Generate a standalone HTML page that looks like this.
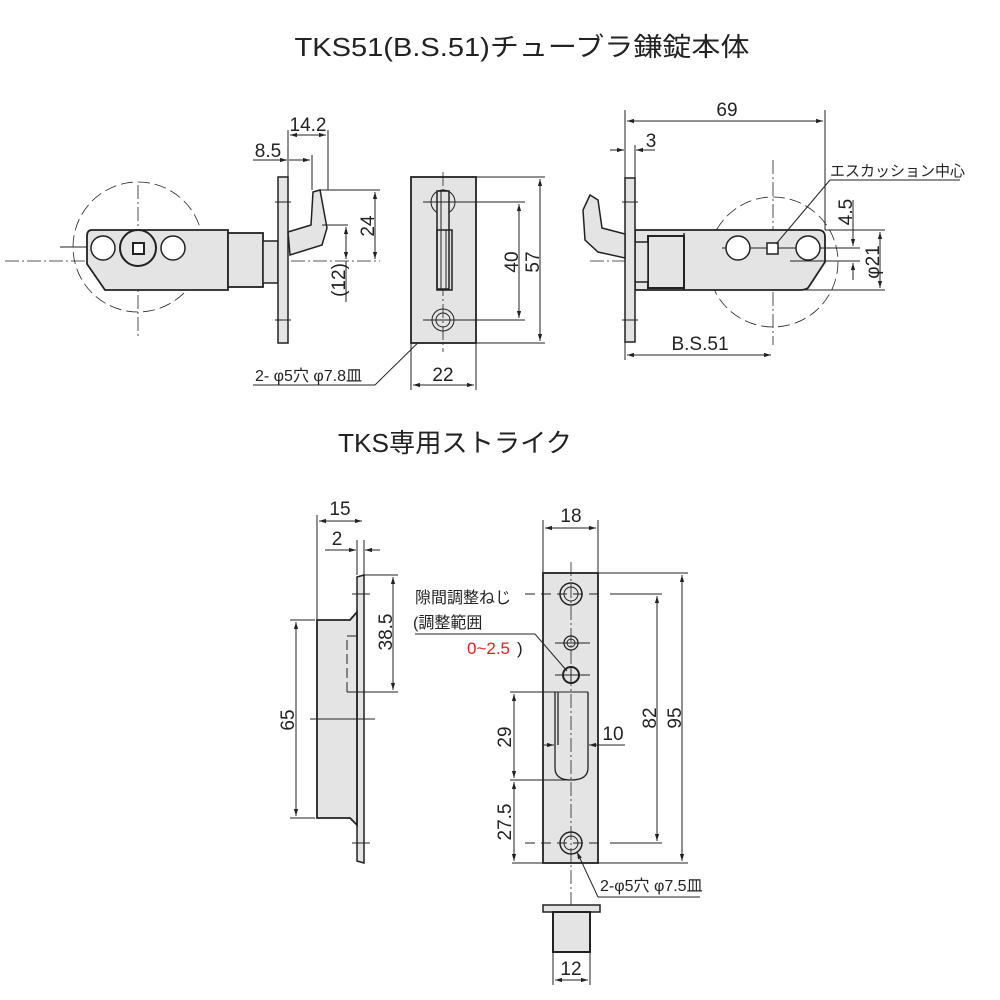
<!DOCTYPE html>
<html><head><meta charset="utf-8"><style>
html,body{margin:0;padding:0;background:#fff}
svg{display:block}
text{font-family:"Liberation Sans","Noto Sans CJK JP",sans-serif;fill:#222}
</style></head><body>
<svg width="1000" height="1000" viewBox="0 0 1000 1000" xmlns="http://www.w3.org/2000/svg">
<defs>
<marker id="a" viewBox="0 0 10 10" refX="10" refY="5" markerWidth="9" markerHeight="7" orient="auto-start-reverse"><path d="M0,2 L10,5 L0,8 z" fill="#222"/></marker>
</defs>
<text x="522" y="56" font-size="26" text-anchor="middle" textLength="455" lengthAdjust="spacingAndGlyphs">TKS51(B.S.51)チューブラ鎌錠本体</text>
<text x="455" y="452" font-size="26" text-anchor="middle" textLength="234" lengthAdjust="spacingAndGlyphs">TKS専用ストライク</text>

<g stroke="#222" fill="none" stroke-width="1">
<!-- LEFT VIEW -->
<circle cx="138" cy="247" r="65" stroke-dasharray="12,5" stroke-width="0.8"/>
<line x1="138" y1="185" x2="138" y2="338" stroke-dasharray="14,3,2,3" stroke-width="0.8"/>
<line x1="5" y1="261" x2="380" y2="261" stroke-dasharray="14,3,2,3" stroke-width="0.8"/>
<line x1="60" y1="247" x2="218" y2="247"/>
<path d="M92,230 H228 V290 H105 L87,264 V236 Q87,230 92,230 Z" fill="#e4e4e4" stroke-width="1.8"/>
<rect x="228" y="233" width="35" height="54" fill="#e4e4e4" stroke-width="1.8"/>
<rect x="263" y="241" width="15" height="42" fill="#e4e4e4" stroke-width="1.5"/>
<circle cx="103" cy="248" r="12" fill="#fff" stroke-width="1.5"/>
<circle cx="173" cy="248" r="12" fill="#fff" stroke-width="1.5"/>
<circle cx="138" cy="248" r="18" stroke-width="2"/>
<rect x="133" y="243" width="11" height="11" fill="#fff" stroke-width="2"/>
<rect x="278" y="177" width="10" height="166" fill="#e4e4e4" stroke-width="1.5"/>
<line x1="275" y1="202" x2="291" y2="202"/><line x1="275" y1="320" x2="291" y2="320"/>
<path d="M288,232 L311,225 L313,192 L320,190 L327,228 L322,245 L290,255 Z" fill="#e4e4e4" stroke-width="1.5"/>
<!-- dims left -->
<line x1="288" y1="130" x2="288" y2="230"/><line x1="328" y1="130" x2="328" y2="190"/>
<line x1="290" y1="135" x2="326" y2="135" marker-start="url(#a)" marker-end="url(#a)"/>
<line x1="312" y1="155" x2="312" y2="190"/>
<line x1="253" y1="160" x2="287" y2="160" marker-end="url(#a)"/>
<line x1="289" y1="160" x2="310" y2="160" marker-end="url(#a)"/>
<line x1="320" y1="190" x2="380" y2="190"/>
<line x1="375" y1="192" x2="375" y2="259" marker-start="url(#a)" marker-end="url(#a)"/>
<line x1="322" y1="225" x2="348" y2="225"/>
<line x1="346" y1="227" x2="346" y2="259" marker-start="url(#a)" marker-end="url(#a)"/>
<line x1="346" y1="261" x2="346" y2="302"/>
<line x1="253" y1="385" x2="375" y2="385"/>
<line x1="375" y1="385" x2="434" y2="327" marker-end="url(#a)"/>

<!-- MIDDLE FRONT -->
<rect x="411" y="177" width="65" height="166" fill="#e4e4e4" stroke-width="1.8"/>
<line x1="443" y1="172" x2="443" y2="352" stroke-dasharray="14,3,2,3" stroke-width="0.8"/>
<circle cx="443" cy="202" r="12" fill="#e4e4e4"/>
<rect x="437" y="191" width="12" height="98" fill="#e4e4e4" stroke-width="1.5"/>
<line x1="441" y1="191" x2="441" y2="289"/><line x1="446" y1="230" x2="446" y2="289"/>
<rect x="437" y="230" width="15" height="60" stroke-width="1.5"/>
<circle cx="443" cy="320" r="11"/><circle cx="443" cy="320" r="7"/>
<line x1="423" y1="202" x2="525" y2="202"/><line x1="423" y1="320" x2="525" y2="320"/>
<line x1="476" y1="177" x2="545" y2="177"/><line x1="476" y1="343" x2="545" y2="343"/>
<line x1="519" y1="204" x2="519" y2="318" marker-start="url(#a)" marker-end="url(#a)"/>
<line x1="540" y1="179" x2="540" y2="341" marker-start="url(#a)" marker-end="url(#a)"/>
<line x1="411" y1="343" x2="411" y2="390"/><line x1="476" y1="343" x2="476" y2="390"/>
<line x1="413" y1="385" x2="474" y2="385" marker-start="url(#a)" marker-end="url(#a)"/>

<!-- RIGHT VIEW -->
<circle cx="773" cy="262" r="65" stroke-dasharray="12,5" stroke-width="0.8"/>
<line x1="773" y1="160" x2="773" y2="345" stroke-dasharray="14,3,2,3" stroke-width="0.8"/>
<line x1="590" y1="261" x2="830" y2="261" stroke-dasharray="14,3,2,3" stroke-width="0.8"/>
<path d="M635,230 H818 Q825,230 825,237 V262 L808,288 Q805,290 800,290 H635 Z" fill="#e4e4e4" stroke-width="1.8"/>
<rect x="648" y="236" width="36" height="52" fill="#e4e4e4" stroke-width="2"/>
<line x1="684" y1="233" x2="684" y2="290" stroke-width="1.5"/>
<rect x="635" y="242" width="13" height="40" fill="#e4e4e4" stroke-width="1.5"/>
<line x1="722" y1="248" x2="860" y2="248"/>
<circle cx="738" cy="248" r="12" fill="#fff" stroke-width="1.5"/>
<circle cx="808" cy="248" r="12" fill="#fff" stroke-width="1.5"/>
<rect x="767" y="243" width="11" height="11" fill="#fff" stroke-width="1.5"/>
<rect x="625" y="178" width="10" height="164" fill="#e4e4e4" stroke-width="1.5"/>
<line x1="622" y1="202" x2="638" y2="202"/><line x1="622" y1="320" x2="638" y2="320"/>
<path d="M625,234 L602,228 L598,200 L590,195 L583,210 L585,240 L598,252 L625,258 Z" fill="#e4e4e4" stroke-width="1.5"/>
<line x1="625" y1="110" x2="625" y2="178"/><line x1="825" y1="110" x2="825" y2="230"/>
<line x1="627" y1="121" x2="823" y2="121" marker-start="url(#a)" marker-end="url(#a)"/>
<line x1="635" y1="145" x2="635" y2="178"/>
<line x1="610" y1="150" x2="624" y2="150" marker-end="url(#a)"/>
<line x1="655" y1="150" x2="636" y2="150" marker-end="url(#a)"/>
<line x1="625" y1="342" x2="625" y2="360"/>
<line x1="627" y1="355" x2="771" y2="355" marker-start="url(#a)" marker-end="url(#a)"/>
<line x1="830" y1="180" x2="960" y2="180"/>
<line x1="830" y1="180" x2="776" y2="244"/>
<line x1="790" y1="261" x2="860" y2="261"/>
<line x1="853" y1="200" x2="853" y2="246" marker-end="url(#a)"/>
<line x1="853" y1="280" x2="853" y2="263" marker-end="url(#a)"/>
<line x1="825" y1="230" x2="885" y2="230"/><line x1="800" y1="290" x2="885" y2="290"/>
<line x1="880" y1="232" x2="880" y2="288" marker-start="url(#a)" marker-end="url(#a)"/>

<!-- STRIKE SIDE -->
<path d="M357,577 L364,575 V863 L357,861 Z" fill="#e4e4e4" stroke-width="1.5"/>
<path d="M317,620 H350 L357,612 V825 L350,818 H317 Z" fill="#e4e4e4" stroke-width="1.8"/>
<path d="M357,636 H347 V692 H357" stroke-dasharray="10,4"/>
<line x1="352" y1="594" x2="370" y2="594"/><line x1="352" y1="843" x2="370" y2="843"/>
<line x1="310" y1="719" x2="375" y2="719"/>
<line x1="317" y1="515" x2="317" y2="620"/><line x1="364" y1="540" x2="364" y2="575"/>
<line x1="319" y1="521" x2="362" y2="521" marker-start="url(#a)" marker-end="url(#a)"/>
<line x1="357" y1="540" x2="357" y2="575"/>
<line x1="325" y1="550" x2="356" y2="550" marker-end="url(#a)"/>
<line x1="380" y1="550" x2="365" y2="550" marker-end="url(#a)"/>
<line x1="364" y1="575" x2="398" y2="575"/><line x1="347" y1="692" x2="398" y2="692"/>
<line x1="393" y1="577" x2="393" y2="690" marker-start="url(#a)" marker-end="url(#a)"/>
<line x1="290" y1="620" x2="315" y2="620"/><line x1="290" y1="818" x2="315" y2="818"/>
<line x1="296" y1="622" x2="296" y2="816" marker-start="url(#a)" marker-end="url(#a)"/>

<!-- STRIKE FRONT -->
<rect x="543" y="573" width="55" height="290" fill="#e4e4e4" stroke-width="1.8"/>
<line x1="571" y1="562" x2="571" y2="905" stroke-dasharray="14,3,2,3" stroke-width="0.8"/>
<path d="M555,692 V768 Q555,780 571,780 Q588,780 588,768 V692" stroke-width="1.3"/>
<line x1="558" y1="692" x2="558" y2="745" stroke-width="1.3"/>
<circle cx="571" cy="594" r="11" stroke-width="1.5"/><circle cx="571" cy="594" r="7"/>
<circle cx="571" cy="643" r="7" stroke-width="1.3"/><circle cx="571" cy="643" r="4"/>
<circle cx="571" cy="675" r="8" stroke-width="2"/>
<line x1="565" y1="675" x2="577" y2="675"/><line x1="571" y1="669" x2="571" y2="681"/>
<circle cx="571" cy="843" r="11" stroke-width="1.5"/><circle cx="571" cy="843" r="7"/>
<line x1="555" y1="643" x2="590" y2="643"/><line x1="555" y1="675" x2="590" y2="675"/>
<line x1="525" y1="594" x2="600" y2="594" stroke-dasharray="10,6"/>
<line x1="525" y1="843" x2="600" y2="843" stroke-dasharray="10,6"/>
<line x1="610" y1="594" x2="662" y2="594"/><line x1="610" y1="843" x2="662" y2="843"/>
<line x1="598" y1="573" x2="688" y2="573"/><line x1="598" y1="863" x2="688" y2="863"/>
<line x1="657" y1="596" x2="657" y2="841" marker-start="url(#a)" marker-end="url(#a)"/>
<line x1="682" y1="575" x2="682" y2="861" marker-start="url(#a)" marker-end="url(#a)"/>
<line x1="543" y1="520" x2="543" y2="573"/><line x1="598" y1="520" x2="598" y2="573"/>
<line x1="545" y1="528" x2="596" y2="528" marker-start="url(#a)" marker-end="url(#a)"/>
<line x1="510" y1="692" x2="588" y2="692"/><line x1="510" y1="780" x2="571" y2="780"/>
<line x1="514" y1="694" x2="514" y2="778" marker-start="url(#a)" marker-end="url(#a)"/>
<line x1="514" y1="782" x2="514" y2="861" marker-start="url(#a)" marker-end="url(#a)"/>
<line x1="512" y1="863" x2="543" y2="863"/>
<line x1="543" y1="745" x2="554" y2="745" marker-end="url(#a)"/>
<line x1="625" y1="745" x2="589" y2="745" marker-end="url(#a)"/>
<line x1="415" y1="634" x2="535" y2="634"/>
<line x1="535" y1="634" x2="567" y2="671"/>
<line x1="598" y1="897" x2="700" y2="897"/>
<line x1="598" y1="897" x2="577" y2="852" marker-end="url(#a)"/>
<!-- bottom part -->
<rect x="543" y="905" width="57" height="7" fill="#e4e4e4" stroke-width="1.5"/>
<rect x="553" y="912" width="37" height="40" fill="#e4e4e4" stroke-width="2"/>
<line x1="553" y1="952" x2="553" y2="985"/><line x1="590" y1="952" x2="590" y2="985"/>
<line x1="555" y1="980" x2="588" y2="980" marker-start="url(#a)" marker-end="url(#a)"/>
</g>

<g font-size="19">
<text x="308" y="131" text-anchor="middle">14.2</text>
<text x="268" y="157" text-anchor="middle">8.5</text>
<text transform="translate(374,226) rotate(-90)" text-anchor="middle">24</text>
<text transform="translate(345,280) rotate(-90)" text-anchor="middle">(12)</text>
<text x="255" y="381" font-size="16">2- φ5穴 φ7.8皿</text>
<text transform="translate(518,262) rotate(-90)" text-anchor="middle">40</text>
<text transform="translate(539,262) rotate(-90)" text-anchor="middle">57</text>
<text x="443" y="381" text-anchor="middle">22</text>
<text x="727" y="116" text-anchor="middle">69</text>
<text x="651" y="147" text-anchor="middle">3</text>
<text x="700" y="350" text-anchor="middle">B.S.51</text>
<text x="830" y="176" font-size="15">エスカッション中心</text>
<text transform="translate(852,212) rotate(-90)" text-anchor="middle">4.5</text>
<text transform="translate(879,262) rotate(-90)" text-anchor="middle">φ21</text>
<text x="340" y="515" text-anchor="middle">15</text>
<text x="337" y="545" text-anchor="middle">2</text>
<text transform="translate(392,632) rotate(-90)" text-anchor="middle">38.5</text>
<text transform="translate(294,720) rotate(-90)" text-anchor="middle">65</text>
<text x="571" y="522" text-anchor="middle">18</text>
<text transform="translate(656,718) rotate(-90)" text-anchor="middle">82</text>
<text transform="translate(681,718) rotate(-90)" text-anchor="middle">95</text>
<text transform="translate(511,737) rotate(-90)" text-anchor="middle">29</text>
<text transform="translate(511,822) rotate(-90)" text-anchor="middle">27.5</text>
<text x="613" y="740" text-anchor="middle">10</text>
<text x="415" y="603" font-size="16">隙間調整ねじ</text>
<text x="413" y="628" font-size="16">(調整範囲</text>
<text x="467" y="654" font-size="17" style="fill:#e02020">0~2.5</text><text x="517" y="654" font-size="17">)</text>
<text x="600" y="891" font-size="16">2-φ5穴 φ7.5皿</text>
<text x="571" y="975" text-anchor="middle">12</text>
</g>
</svg>
</body></html>
